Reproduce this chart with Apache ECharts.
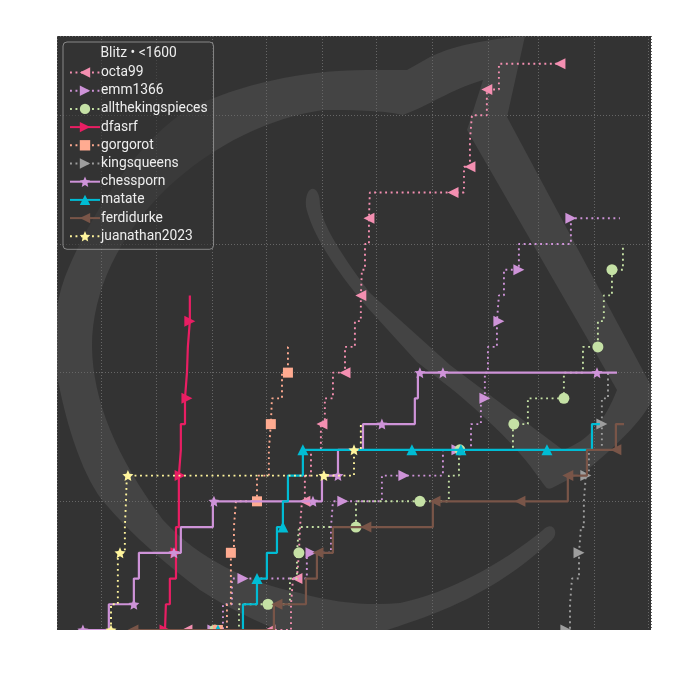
<!DOCTYPE html>
<html><head><meta charset="utf-8">
<script src="https://cdn.jsdelivr.net/npm/echarts@6/dist/echarts.min.js"></script>
<style>html,body{margin:0;padding:0;background:#fff}#c{width:700px;height:700px}</style>
</head><body><div id="c"></div>
<script>
// Score over time; days are counted from the first monthly grid line, marks flag the plotted markers.
const names = ['octa99','emm1366','allthekingspieces','dfasrf','gorgorot','kingsqueens','chessporn','matate','ferdidurke','juanathan2023'];

const octa99Days = [47.8,93.9,105.6,106.7,108.9,110,110.6,111.7,113.3,113.3,116.7,122.2,122.8,124.4,128.9,135.6,135.6,141.1,144.4,145,146.7,148.9,149.4,195.6,201.7,205,205,206.1,214.4,221.1,255];
const octa99Scores = [0,0,1,2,2,3,4,5,5,6,7,8,8,9,10,10,11,12,13,14,15,16,17,17,18,18,19,20,21,22,22];
const octa99Marks = [1,1,0,0,1,0,0,0,1,0,0,0,1,0,0,1,0,0,1,0,0,1,0,1,0,1,0,0,1,0,1];

const emm1366Days = [62.2,67.8,72.8,78.9,114.4,116.7,127.8,128.9,134.4,156.1,168.3,190,197.8,205.6,211.1,213.3,213.3,215,220,221.1,221.1,223.9,232.2,232.2,261.1,288.3];
const emm1366Scores = [0,1,2,2,3,3,4,5,5,6,6,7,7,8,9,9,10,11,12,12,13,14,14,15,16,16];
const emm1366Marks = [1,0,0,1,0,1,0,0,1,0,1,0,1,0,0,1,0,0,0,1,0,0,1,0,1,0];

const kingsPiecesDays = [63.3,76.7,92.8,105,108.9,110,110,141.7,141.7,177.2,193.3,198.9,199.4,228.9,229.4,237.2,257.2,257.2,267.8,276.1,276.1,279.4,283.9,290];
const kingsPiecesScores = [0,1,1,2,3,3,4,4,5,5,6,7,7,8,8,9,9,10,11,11,12,13,14,15];
const kingsPiecesMarks = [1,0,1,0,0,1,0,1,0,1,0,0,1,0,1,0,1,0,0,1,0,0,1,0];

const dfasrfDays = [35.6,36.1,38.3,41.7,41.7,43.3,43.3,44,44.4,44.4,46.7,47.8,47.8,48.3,49.4,49.4];
const dfasrfScores = [0,1,2,3,4,5,6,6,7,8,9,9,10,11,12,13];
const dfasrfMarks = [1,0,0,1,0,0,0,1,0,0,0,1,0,0,1,0];

const gorgorotDays = [65,70,72.2,72.2,73.9,75,86.7,86.7,93.3,94.4,95,100.6,103.9,103.9,104.4];
const gorgorotScores = [0,1,2,3,4,5,5,6,7,8,9,10,10,11,11];
const gorgorotMarks = [1,0,0,1,0,0,1,0,0,1,0,0,1,0,0];

const kingsqueensDays = [258.3,260.6,261.7,265.6,266.7,268.3,269.4,271.1,278.3,278.3,281.7];
const kingsqueensScores = [0,1,2,3,4,5,6,7,8,9,10];
const kingsqueensMarks = [1,0,0,1,0,0,1,0,1,0,0];

const chesspornDays = [-10,4.4,18.3,18.3,21.1,40.6,44.4,62.2,62.8,117.8,122.8,131.7,131.7,145.6,156.1,174.4,176.1,177.2,190,275.6,286.7];
const chesspornScores = [0,1,1,2,3,3,4,5,5,5,6,6,7,8,8,9,10,10,10,10,10];
const chesspornMarks = [1,0,1,0,0,1,0,0,1,1,0,1,0,0,1,0,0,1,1,1,0];

const matateDays = [65,78.9,86.7,92.2,97.8,101.1,101.1,103.9,112.2,172.8,200,247.8,272.8,277.2];
const matateScores = [0,1,2,3,4,4,5,6,7,7,7,7,8,8];
const matateMarks = [1,0,1,0,0,1,0,0,1,1,1,1,0,0];

const ferdidurkeDays = [17.8,96.1,97.8,113.9,120,120.6,128.9,147.2,184.4,185.6,232.8,259.4,270,286.1,286.1,290.6];
const ferdidurkeScores = [0,1,1,2,3,3,4,4,5,5,5,6,7,7,8,8];
const ferdidurkeMarks = [1,0,1,0,0,1,0,1,0,1,1,1,0,1,0,0];

const juanathanDays = [5.6,5.6,9.4,9.4,10.6,13.3,13.9,14.4,15,123.9,140.6,144.4];
const juanathanScores = [0,1,2,3,3,4,5,6,6,6,7,8];
const juanathanMarks = [1,0,0,0,1,0,0,0,1,1,1,0];

const BASE = Date.UTC(2022, 6, 1), DAY = 86400000;
const DOT = [1.9, 3.6];
const STAR = 'path://M50,0 L64,32 98,35.6 72.6,58.4 79.6,93 50,76 20.4,93 27.4,58.4 2,35.6 36,32 Z';
const defs = [
 [octa99Days,octa99Scores,octa99Marks,'#f48fb1',DOT,'triangle',90,11],
 [emm1366Days,emm1366Scores,emm1366Marks,'#ce93d8',DOT,'triangle',-90,11],
 [kingsPiecesDays,kingsPiecesScores,kingsPiecesMarks,'#c5e1a5',DOT,'circle',0,11],
 [dfasrfDays,dfasrfScores,dfasrfMarks,'#e91e63','solid','triangle',-90,11],
 [gorgorotDays,gorgorotScores,gorgorotMarks,'#ffab91',DOT,'rect',0,10],
 [kingsqueensDays,kingsqueensScores,kingsqueensMarks,'#9e9e9e',DOT,'triangle',-90,11],
 [chesspornDays,chesspornScores,chesspornMarks,'#ce93d8','solid',STAR,0,11],
 [matateDays,matateScores,matateMarks,'#00bcd4','solid','triangle',0,11],
 [ferdidurkeDays,ferdidurkeScores,ferdidurkeMarks,'#795548','solid','triangle',90,11],
 [juanathanDays,juanathanScores,juanathanMarks,'#fff59d',DOT,STAR,0,11]
];
const series = defs.map((d,i)=>({
  name:names[i], type:'line', step:'end', symbol:d[5], symbolRotate:d[6], symbolSize:d[7],
  showSymbol:true, showAllSymbol:true, animation:false, z:2+i,
  itemStyle:{color:d[3]},
  lineStyle:{color:d[3], width:d[4]==='solid'?2.2:1.9, type:d[4], cap:'butt'},
  emphasis:{disabled:true},
  data:d[0].map((x,k)=>{
    const item={value:[BASE+x*DAY,d[1][k]]};
    if(!d[2][k]) item.symbol='none';
    return item;
  })
}));

const logoPath = 'M525,36 L507,117 L655,393 C648,415 620,443 587,470 L552,488 Q547,490 545,486 C530,465 513,440 453,390 L417,362 L367,307 C333,267 312,233 306,207 C304,184 320,182 320,205 C322,225 343,257 370,293 L450,365 L527,423 L563,450 C590,440 605,420 617,390 L467,130 L483,80 C450,90 430,105 403,115 C380,110 350,110 323,110 C270,118 215,143 165,190 C120,235 92,290 92,347 C93,400 115,455 163,520 C200,560 250,583 300,593 C335,603 370,606 400,603 C450,592 500,565 543,530 C552,520 560,532 552,540 C530,560 500,585 450,607 C420,620 400,625 360,640 L300,640 C267,625 233,612 200,590 C170,567 133,537 102,500 C80,470 65,420 56,370 C52,330 57,300 63,283 C80,235 130,145 190,108 C240,85 300,70 367,70 L407,70 L430,57 C450,47 480,40 525,36 Z';
echarts.graphic.registerShape('logoMark', echarts.graphic.extendPath(logoPath, {}));

const chart = echarts.init(document.getElementById('c'),null,{renderer:'canvas'});
chart.setOption({
  animation:false,
  backgroundColor:'#fff',
  textStyle:{fontFamily:'Roboto'},
  grid:{left:57,top:36,width:594,height:594,containLabel:false},
  xAxis:{type:'time',min:BASE-24.4*DAY,max:BASE+305.6*DAY,splitNumber:11,
    axisLabel:{show:false},axisTick:{show:false},axisLine:{show:false},
    splitLine:{show:true,lineStyle:{color:'#666666',width:1,type:[1,2]}}},
  yAxis:{type:'value',min:0,max:23.08,interval:5,
    axisLabel:{show:false},axisTick:{show:false},axisLine:{show:false},
    splitLine:{show:true,lineStyle:{color:'#666666',width:1,type:[1,2]}}},
  legend:{show:true,left:63,top:42,orient:'vertical',data:names,
    itemWidth:30,itemHeight:13,itemGap:4.2,padding:[23.5,6,6,6],
    backgroundColor:'rgba(51,51,51,0.6)',borderColor:'rgba(204,204,204,0.55)',borderWidth:1,borderRadius:4,
    inactiveColor:'#eee',selectedMode:false,
    textStyle:{color:'#eeeeee',fontFamily:'Roboto',fontSize:13.8,lineHeight:13,padding:[0,0,0,-4]}},
  graphic:{elements:[
    {type:'rect',z:-3,silent:true,shape:{x:57,y:36,width:594,height:594},style:{fill:'#333333'}},
    {type:'logoMark',z:-2,silent:true,style:{fill:'#444444'}},
    {type:'rect',z:-1,silent:true,shape:{x:0,y:0,width:57,height:700},style:{fill:'#fff'}},
    {type:'rect',z:-1,silent:true,shape:{x:651,y:0,width:49,height:700},style:{fill:'#fff'}},
    {type:'rect',z:-1,silent:true,shape:{x:0,y:0,width:700,height:36},style:{fill:'#fff'}},
    {type:'rect',z:40,silent:true,shape:{x:0,y:630,width:700,height:70},style:{fill:'#fff'}},
    {type:'text',z:50,silent:true,x:100.5,y:46.5,style:{text:'Blitz • <1600',fill:'#eeeeee',font:'13.8px Roboto'}}
  ]},
  series:series
});
</script></body></html>
